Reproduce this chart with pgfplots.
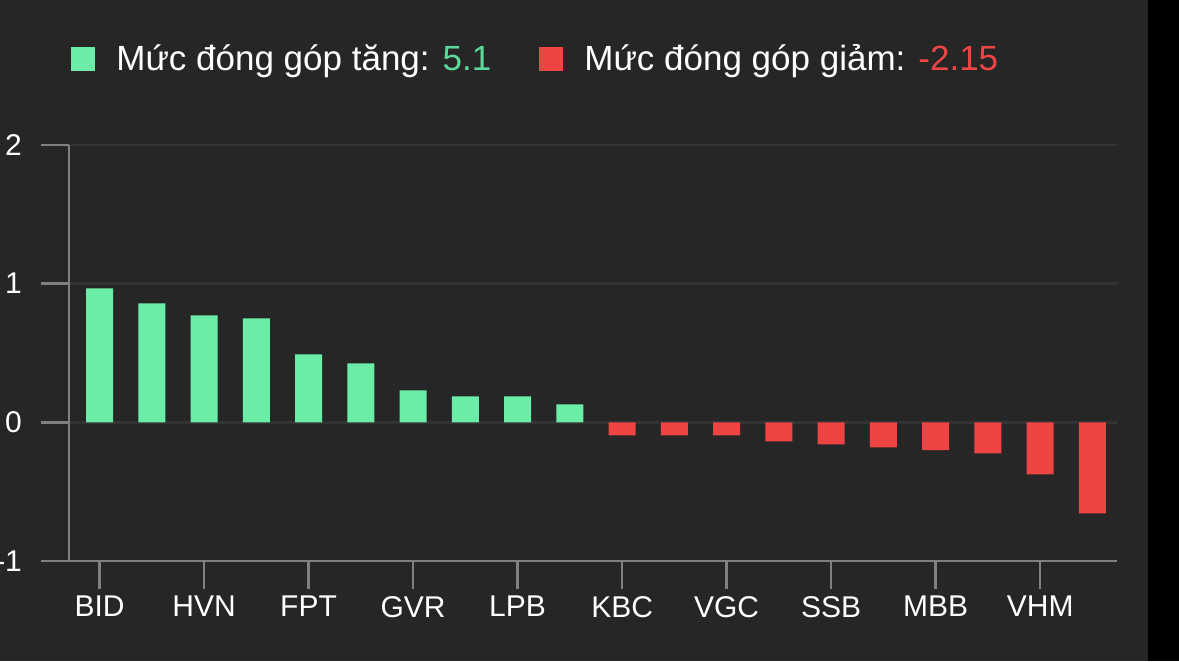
\documentclass[border=0pt]{standalone}
\usepackage{pgfplots}
\pgfplotsset{compat=1.18}
\usepackage{fontspec}
\setmainfont{Liberation Sans}

\definecolor{bgdark}{HTML}{262626}
\definecolor{upgreen}{HTML}{6CEDA7}
\definecolor{upval}{HTML}{5DD89B}
\definecolor{downred}{HTML}{EF4444}
\definecolor{axisgray}{HTML}{808080}
\definecolor{gridgray}{HTML}{333333}

\begin{document}
\begin{tikzpicture}
  % 1 px of the reference = 0.5pt
  \useasboundingbox (0,0) rectangle (589.5pt,330.5pt);
  \fill[bgdark] (0,0) rectangle (589.5pt,330.5pt);
  \fill[black] (574pt,0) rectangle (589.5pt,330.5pt);

  \begin{axis}[
    at={(34.5pt,50pt)}, anchor=south west,
    scale only axis,
    width=524pt, height=208pt,
    axis lines=left,
    axis line style={-, axisgray, line width=1.2pt},
    xmin=-0.584, xmax=19.47,
    ymin=-1, ymax=2,
    ytick={-1,0,1,2},
    yticklabels={-1,0,1,2},
    xtick={0,2,...,18},
    xticklabels={BID,HVN,FPT,GVR,LPB,KBC,VGC,SSB,MBB,VHM},
    tick align=outside,
    major tick length=14pt,
    tick style={axisgray, line width=1.2pt},
    ymajorgrids,
    grid style={gridgray, line width=1.2pt},
    tick label style={text=white, font=\fontsize{15}{18}\selectfont},
    yticklabel style={xshift=-6pt},
    ybar, bar width=13.5pt, bar shift=0pt,
    legend columns=2,
    legend style={at={(0,1)}, anchor=west, xshift=-2pt, yshift=43pt,
      draw=none, fill=none, text=white,
      font=\fontsize{17.5}{20}\selectfont,
      /tikz/every odd column/.append style={column sep=8.5pt},
      /tikz/every even column/.append style={column sep=22pt}},
    legend image code/.code={\fill[#1] (0pt,-6pt) rectangle (12pt,6pt);},
  ]
    \addplot[draw=none, fill=upgreen] coordinates {
      (0,0.966) (1,0.858) (2,0.771) (3,0.750) (4,0.490)
      (5,0.425) (6,0.230) (7,0.187) (8,0.187) (9,0.130)
    };
    \addlegendentry{Mức đóng góp tăng: \textcolor{upval}{5.1}}
    \addplot[draw=none, fill=downred] coordinates {
      (10,-0.094) (11,-0.094) (12,-0.094) (13,-0.137) (14,-0.159)
      (15,-0.180) (16,-0.200) (17,-0.224) (18,-0.375) (19,-0.656)
    };
    \addlegendentry{Mức đóng góp giảm: \textcolor{downred}{-2.15}}
  \end{axis}
\end{tikzpicture}
\end{document}
